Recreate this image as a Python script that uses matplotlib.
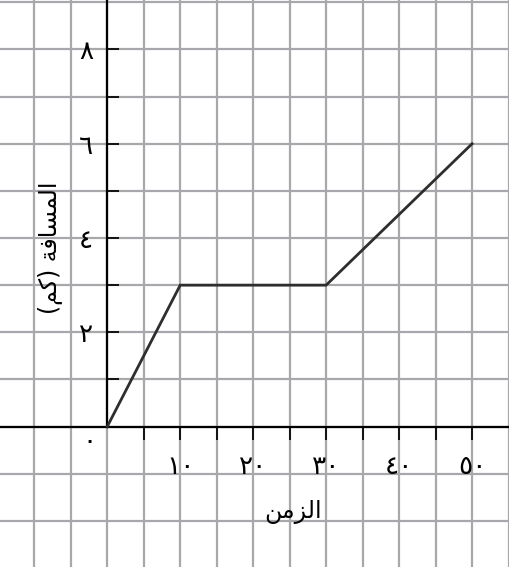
import matplotlib
matplotlib.use('Agg')
import matplotlib.pyplot as plt
import numpy as np

# data: time vs distance
time_vals = [0, 10, 30, 50]
dist_vals = [0, 3, 3, 6]

x_label_ticks = [10, 20, 30, 40, 50]
x_label_text = ['\u0661\u0660', '\u0662\u0660', '\u0663\u0660', '\u0664\u0660', '\u0665\u0660']
x_minor_ticks = [5, 15, 25, 35, 45]
y_label_ticks = [2, 4, 6, 8]
y_label_text = ['\u0662', '\u0664', '\u0666', '\u0668']
y_minor_ticks = [1, 3, 5, 7]
zero_text = '\u0660'

# arabic titles, pre-shaped (presentation forms, visual order) since matplotlib has no shaping
xlabel = '\uFEE6\uFEE3\uFEB0\uFEDF\uFE8D'                                   # الزمن
ylabel = '(\uFEE2\uFEDB) \uFE94\uFED3\uFE8E\uFEB4\uFEE4\uFEDF\uFE8D'        # المسافة (كم)

plt.rcParams['font.family'] = ['DejaVu Sans']

fig = plt.figure(figsize=(5.1, 5.67), dpi=100)
ax = fig.add_axes([0, 0, 1, 1])
xmin, xmax = -14.7, 55.2
ymin, ymax = -2.98, 9.05
ax.set_xlim(xmin, xmax)
ax.set_ylim(ymin, ymax)

# graph paper
grid_c = '#a8a8ac'
for gx in np.arange(-10, 56, 5):
    ax.axvline(gx, color=grid_c, lw=1.6, zorder=0)
for gy in np.arange(-2, 10, 1):
    ax.axhline(gy, color=grid_c, lw=1.6, zorder=0)

# axes through origin
for side in ['top', 'right']:
    ax.spines[side].set_visible(False)
ax.spines['left'].set_position(('data', 0))
ax.spines['bottom'].set_position(('data', 0))
ax.spines['left'].set_bounds(0, ymax)
ax.spines['bottom'].set_bounds(xmin, xmax)
ax.spines['left'].set_linewidth(1.6)
ax.spines['bottom'].set_linewidth(1.6)
ax.spines['left'].set_zorder(2)
ax.spines['bottom'].set_zorder(2)

ax.set_xticks(x_label_ticks, x_label_text)
ax.set_xticks(x_minor_ticks, minor=True)
ax.set_yticks(y_label_ticks, y_label_text)
ax.set_yticks(y_minor_ticks, minor=True)
ax.tick_params(axis='x', which='both', direction='out', length=9, width=1.4, color='#111111')
ax.tick_params(axis='x', which='major', pad=11, labelsize=19)
ax.tick_params(axis='y', which='both', direction='in', length=8.5, width=1.4, color='#111111')
ax.tick_params(axis='y', which='major', pad=10, labelsize=19)

ax.text(-2.4, -0.32, zero_text, ha='center', va='center', fontsize=19)

ax.plot(time_vals, dist_vals, color='#2e2e2e', lw=2.0, zorder=3, solid_joinstyle='miter')

ax.text(25.4, -1.82, xlabel, ha='center', va='center', fontsize=17)
ax.text(-7.9, 3.8, ylabel, ha='center', va='center', rotation=90, fontsize=17)

fig.savefig('out.png', dpi=100)
